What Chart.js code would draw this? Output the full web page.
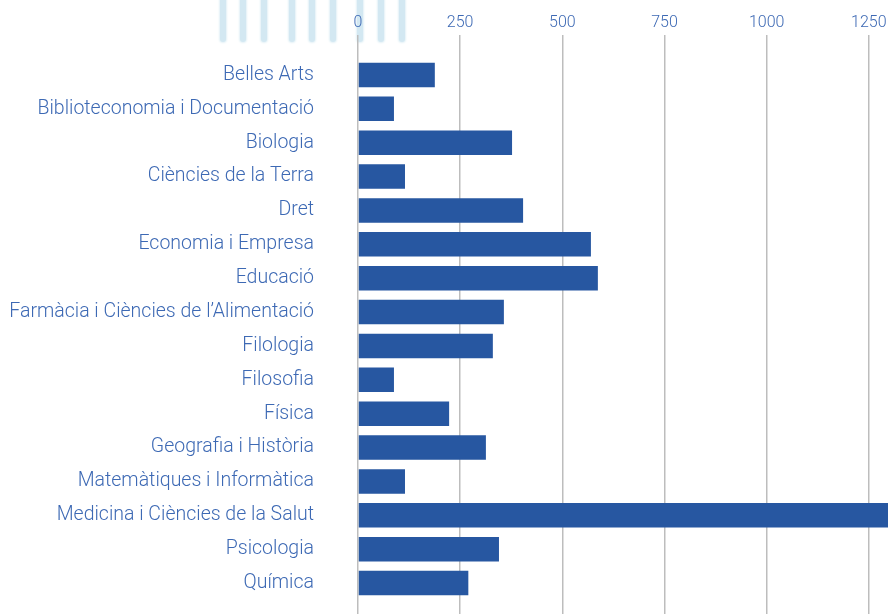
<!DOCTYPE html>
<html>
<head>
<meta charset="utf-8">
<script src="https://cdn.jsdelivr.net/npm/chart.js@4"></script>
<style>
  html, body { margin: 0; padding: 0; background: #fff; overflow: hidden; }
  #wrap { position: relative; width: 888px; height: 614px; }
  #deco { position: absolute; left: 0; top: 0; }
  .stripe { position: absolute; top: -6px; width: 6px; height: 48px; border-radius: 4px;
            background: #d3e8f2; box-shadow: 0 0 2px 1px #e3f1f7; }
  canvas { position: absolute; left: 0; top: 0; }
</style>
</head>
<body>
<div id="wrap">
  <div id="deco"></div>
  <canvas id="grafico" width="888" height="614"></canvas>
</div>
<script>
// dades
const estudis = [
  'Belles Arts',
  'Biblioteconomia i Documentació',
  'Biologia',
  'Ciències de la Terra',
  'Dret',
  'Economia i Empresa',
  'Educació',
  'Farmàcia i Ciències de l\u2019Alimentació',
  'Filologia',
  'Filosofia',
  'Física',
  'Geografia i Història',
  'Matemàtiques i Informàtica',
  'Medicina i Ciències de la Salut',
  'Psicologia',
  'Química'
];
const valors = [188, 88, 377, 115, 404, 570, 587, 357, 330, 88, 223, 313, 115, 1300, 345, 270];
const ticksX = [0, 250, 500, 750, 1000, 1250];
const escalaMax = 1297;

// ratlles decoratives de dalt
const ratlles = [223, 243, 264, 292, 312, 333, 360, 381, 402];
const deco = document.getElementById('deco');
ratlles.forEach(x => {
  const d = document.createElement('div');
  d.className = 'stripe';
  d.style.left = (x - 3) + 'px';
  deco.appendChild(d);
});

const blau = '#2757a1';
const blauText = '#3d69b4';
const gris = '#bdbdbd';

function posaTicks(scale){
  scale.ticks = ticksX.map(v => ({ value: v }));
}

const ctx = document.getElementById('grafico');
new Chart(ctx, {
  type: 'bar',
  data: {
    labels: estudis,
    datasets: [{
      data: valors,
      backgroundColor: blau,
      borderWidth: 0,
      xAxisID: 'x'
    }]
  },
  options: {
    indexAxis: 'y',
    responsive: false,
    animation: false,
    layout: { padding: 0 },
    plugins: {
      legend: { display: false },
      tooltip: { enabled: false }
    },
    scales: {
      x: {
        position: 'top',
        min: 0,
        max: escalaMax,
        border: { display: false },
        grid: { color: gris, lineWidth: 1.5, tickLength: 23, tickColor: gris },
        afterBuildTicks: posaTicks,
        afterFit: (scale) => {
          scale.height = 58;
          scale.paddingLeft = 0;
          scale.paddingRight = 0;
        },
        ticks: {
          padding: 2,
          color: blauText,
          font: { family: 'Roboto', size: 16, weight: 300 },
          callback: (v) => String(v)
        }
      },
      x2: {
        position: 'bottom',
        min: 0,
        max: escalaMax,
        border: { display: false },
        grid: { color: gris, lineWidth: 1.5, tickLength: 14, tickColor: gris, drawOnChartArea: false },
        afterBuildTicks: posaTicks,
        afterFit: (scale) => {
          scale.height = 14;
          scale.paddingLeft = 0;
          scale.paddingRight = 0;
        },
        ticks: { display: false }
      },
      y: {
        border: { display: false },
        grid: { color: 'transparent', drawOnChartArea: false, drawTicks: true, tickLength: 44 },
        afterFit: (scale) => {
          scale.width = 358;
          scale.paddingTop = 0;
          scale.paddingBottom = 0;
        },
        ticks: {
          padding: 0,
          color: blauText,
          font: { family: 'Roboto', size: 19.5, weight: 300 }
        }
      }
    }
  }
});
</script>
</body>
</html>
